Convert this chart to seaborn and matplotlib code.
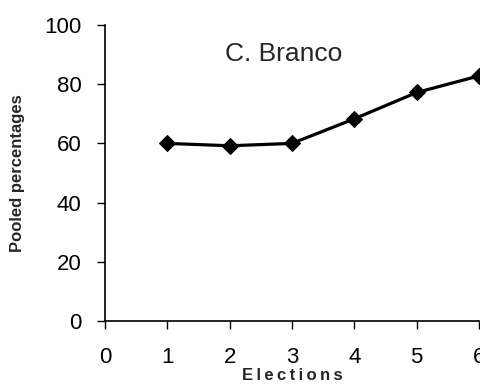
import numpy as np
import pandas as pd
import matplotlib
matplotlib.use("Agg")
import matplotlib.pyplot as plt
import seaborn as sns

elections = [1, 2, 3, 4, 5, 6]
pooled = [60.0, 59.2, 60.0, 68.3, 77.2, 82.8]
x_ticks = [0, 1, 2, 3, 4, 5, 6]
y_ticks = [0, 20, 40, 60, 80, 100]

sns.set_style("ticks")
plt.rcParams['font.family'] = ['Liberation Sans', 'DejaVu Sans']

df = pd.DataFrame({'Elections': elections, 'Pooled': pooled})

fig = plt.figure(figsize=(4.81, 3.84), dpi=100)
ax = fig.add_axes([105 / 481, 1 - 321 / 384, (479 - 105) / 481, (321 - 25) / 384])

sns.lineplot(data=df, x='Elections', y='Pooled', ax=ax, color='black',
             linewidth=2.3, marker='D', markersize=8, markeredgecolor='black')

ax.set_xlim(0, 6)
ax.set_ylim(0, 100)
ax.set_xticks(x_ticks)
ax.set_yticks(y_ticks)
ax.tick_params(axis='both', labelsize=16, direction='out', length=6, width=1, colors='black')
ax.tick_params(axis='x', pad=13)
ax.tick_params(axis='y', pad=11)
for lbl in ax.get_xticklabels() + ax.get_yticklabels():
    lbl.set_clip_on(False)
sns.despine(ax=ax)
for side in ['left', 'bottom']:
    ax.spines[side].set_linewidth(1.2)
    ax.spines[side].set_color('black')

ax.set_xlabel('E\u2009l\u2009e\u2009c\u2009t\u2009i\u2009o\u2009n\u2009s', fontsize=12, fontweight='bold', va='center')
ax.set_ylabel('Pooled percentages', fontsize=12, fontweight='bold', va='center')
ax.yaxis.set_label_coords(-87 / 374, 0.5)
ax.xaxis.set_label_coords(0.5, -55 / 296)
ax.text(2.86, 90.2, 'C. Branco', fontsize=19, ha='center', va='center')

fig.savefig('out.png', dpi=100)
